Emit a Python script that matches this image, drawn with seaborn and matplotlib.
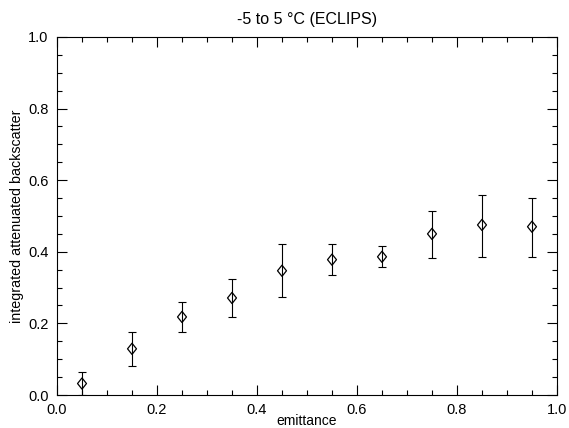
import numpy as np
import pandas as pd
import matplotlib
matplotlib.use("Agg")
import matplotlib.pyplot as plt
import seaborn as sns
from matplotlib.ticker import MultipleLocator
from matplotlib.path import Path

# ---------------- data ----------------
emittance = [0.05, 0.15, 0.25, 0.35, 0.45, 0.55, 0.65, 0.75, 0.85, 0.95]
backscatter = [0.032, 0.129, 0.218, 0.271, 0.347, 0.378, 0.386, 0.450, 0.475, 0.470]
err_low = [0.000, 0.081, 0.176, 0.218, 0.274, 0.336, 0.358, 0.383, 0.386, 0.386]
err_high = [0.065, 0.176, 0.260, 0.324, 0.422, 0.422, 0.417, 0.515, 0.559, 0.551]

df = pd.DataFrame({"emittance": emittance, "backscatter": backscatter,
                   "low": err_low, "high": err_high})

sns.set_style("ticks", {"text.color": "black", "axes.labelcolor": "black",
                        "xtick.color": "black", "ytick.color": "black",
                        "axes.edgecolor": "black"})
plt.rcParams["font.family"] = ["Liberation Sans", "DejaVu Sans"]

fig = plt.figure(figsize=(5.69, 4.28), dpi=100)
ax = fig.add_axes([0.1002, 0.0771, 0.8787, 0.8365])

# slightly narrow diamond like the IDL symbol
diamond = Path([(0, 1), (0.8, 0), (0, -1), (-0.8, 0), (0, 1)],
               [Path.MOVETO, Path.LINETO, Path.LINETO, Path.LINETO, Path.CLOSEPOLY])

yerr = [df["backscatter"] - df["low"], df["high"] - df["backscatter"]]
ax.errorbar(df["emittance"], df["backscatter"], yerr=yerr, fmt="none",
            ecolor="black", elinewidth=0.8, capsize=3, capthick=0.8)
sns.scatterplot(data=df, x="emittance", y="backscatter", ax=ax, marker=diamond,
                s=65, facecolor="none", edgecolor="black", linewidth=0.9, zorder=3)

ax.set_xlim(0, 1)
ax.set_ylim(0, 1)
ax.xaxis.set_major_locator(MultipleLocator(0.2))
ax.xaxis.set_minor_locator(MultipleLocator(0.05))
ax.yaxis.set_major_locator(MultipleLocator(0.2))
ax.yaxis.set_minor_locator(MultipleLocator(0.05))
ax.tick_params(which="both", direction="in", top=True, right=True, width=0.8,
               labelsize=10.5, pad=6, colors="black")
ax.tick_params(which="major", length=7)
ax.tick_params(which="minor", length=3.5)
for sp in ax.spines.values():
    sp.set_linewidth(0.8)

ax.set_xlabel("emittance", fontsize=10, labelpad=-2.5)
ax.set_ylabel("integrated attenuated backscatter", fontsize=10.3, labelpad=3)
ax.set_title("-5 to 5 °C (ECLIPS)", fontsize=11.5, pad=9)

fig.savefig("out.png", dpi=100)
